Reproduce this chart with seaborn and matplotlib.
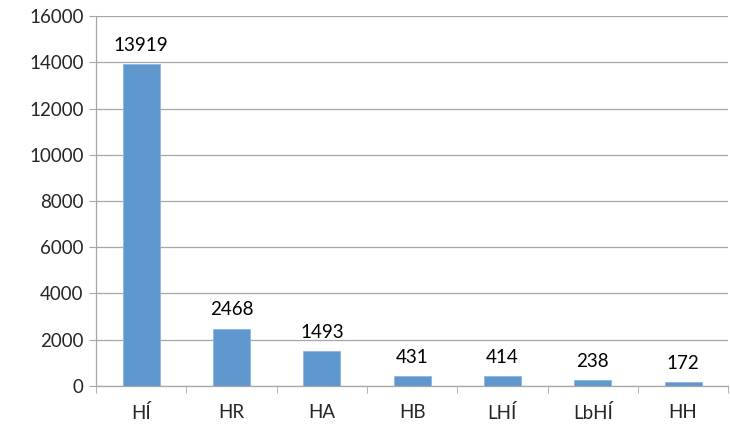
import pandas as pd
import matplotlib.pyplot as plt
import seaborn as sns
import numpy as np

# Category counts
categories = ['HÍ', 'HR', 'HA', 'HB', 'LHÍ', 'LbHÍ', 'HH']
counts = [13919, 2468, 1493, 431, 414, 238, 172]

df = pd.DataFrame({'cat': categories, 'count': counts})

sns.set_style("white")
plt.rcParams['font.family'] = ['Lato', 'DejaVu Sans']

fig = plt.figure(figsize=(7.3, 4.25), dpi=100)
ax = fig.add_axes([0.1315, 0.092, 0.866, 0.870])

sns.barplot(data=df, x='cat', y='count', color='#5F97CF', width=0.41,
            edgecolor='#8DB4E2', linewidth=0.6, saturation=1, ax=ax)

for i, v in enumerate(counts):
    ax.text(i, v + 450, str(v), ha='center', va='bottom', fontsize=13.5, color='black')

ax.set_ylim(0, 16000)
ax.set_yticks(np.arange(0, 16001, 2000))
ax.set_xlim(-0.5, len(categories) - 0.5)
ax.yaxis.grid(True, color='#A6A6A6', linewidth=0.9)
ax.set_axisbelow(True)
ax.set_xlabel('')
ax.set_ylabel('')

for s in ['top', 'right']:
    ax.spines[s].set_visible(False)
for s in ['left', 'bottom']:
    ax.spines[s].set_color('#A6A6A6')
    ax.spines[s].set_linewidth(0.9)

# Excel-style ticks between categories
ax.set_xticks(np.arange(len(categories)))
ax.set_xticklabels(categories)
ax.set_xticks(np.arange(-0.5, len(categories) - 0.4, 1), minor=True)
ax.tick_params(axis='x', which='major', length=0, pad=13, labelsize=13.5)
ax.tick_params(axis='x', which='minor', length=5, color='#A6A6A6', direction='out')
ax.tick_params(axis='y', length=5, color='#A6A6A6', labelsize=13.5, pad=4)
ax.tick_params(bottom=True, left=True, which='both')

fig.savefig('out.png', dpi=100)
